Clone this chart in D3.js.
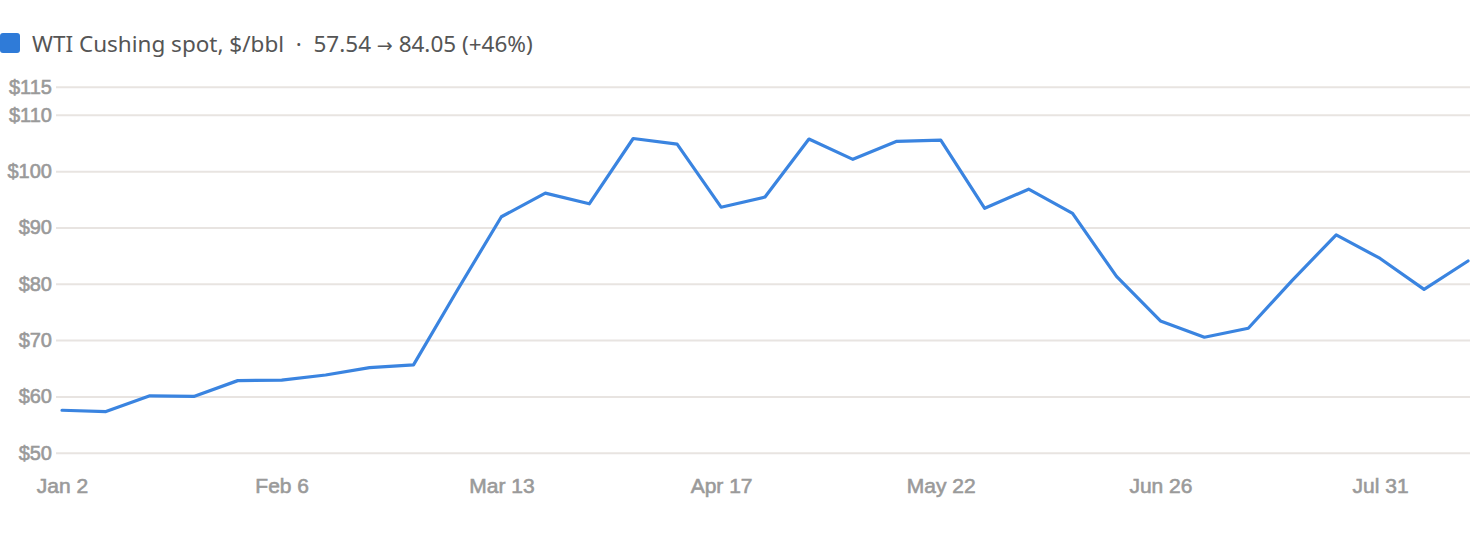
<!DOCTYPE html>
<html>
<head>
<meta charset="utf-8">
<script src="https://cdn.jsdelivr.net/npm/d3@7/dist/d3.min.js"></script>
<style>
  body { margin: 0; background: #fff; }
  .tick text { font-family: "Liberation Sans", Arial, sans-serif; fill: #9a9a9a; stroke: #9a9a9a; stroke-width: 0.6px; }
  .y-axis .tick text { font-size: 20px; }
  .x-axis .tick text { font-size: 21px; }
</style>
</head>
<body>
<div id="chart"></div>
<script>
// weekly spot prices, Jan 2 .. Aug 14
var startDate = "2025-01-02";
var prices = [57.54, 57.3, 60.1, 60.0, 62.8, 62.9, 63.8, 65.1, 65.6, 78.9, 91.9,
    96.1, 94.2, 105.8, 104.8, 93.6, 95.4, 105.7, 102.1, 105.3, 105.5, 93.4, 96.8,
    92.5, 81.3, 73.4, 70.5, 72.1, 80.6, 88.7, 84.5, 79.0, 84.05];
var yTicks = [50, 60, 70, 80, 90, 100, 110, 115];
var xTickEvery = 5; // weeks
var seriesName = "WTI Cushing spot, $/bbl";

var width = 1472, height = 537;
var parse = d3.timeParse("%Y-%m-%d");
var t0 = parse(startDate);
var data = prices.map(function(v, i) {
    return { date: d3.timeWeek.offset(t0, i), value: v };
});

var svg = d3.select("#chart").append("svg")
    .attr("width", width)
    .attr("height", height);

var x = d3.scaleTime()
    .domain([data[0].date, data[data.length - 1].date])
    .range([62, 1468]);
var y = d3.scaleLinear()
    .domain([50, 115])
    .range([452.7, 86.7]);

// legend
var first = prices[0], last = prices[prices.length - 1];
var pct = Math.round((last / first - 1) * 100);
svg.append("rect")
    .attr("x", 0).attr("y", 33)
    .attr("width", 20).attr("height", 20)
    .attr("rx", 3)
    .attr("fill", "#2f7bd8");
var legend = svg.append("text")
    .attr("x", 32).attr("y", 52)
    .style("font-family", "'Noto Sans', 'Open Sans', sans-serif")
    .style("font-size", "22.5px")
    .style("fill", "#555")
    .style("white-space", "pre");
legend.append("tspan").text(seriesName + "  \u00b7  " + first.toFixed(2) + " ");
legend.append("tspan").style("font-family", "'DejaVu Sans', sans-serif").style("font-size", "19px").text("\u2192");
legend.append("tspan").text(" " + last.toFixed(2) + " (+" + pct + "%)");

// y axis with gridlines
var yAxis = svg.append("g")
    .attr("class", "y-axis")
    .attr("transform", "translate(56,0)")
    .call(d3.axisLeft(y).tickValues(yTicks).tickSize(-(1470 - 56)).tickPadding(4)
        .tickFormat(function(d) { return "$" + d; }));
yAxis.select(".domain").remove();
yAxis.selectAll(".tick line").attr("stroke", "#e8e4e1").attr("stroke-width", 2);

// x axis
var xTickDates = data.filter(function(d, i) { return i % xTickEvery === 0; }).map(function(d) { return d.date; });
var xAxis = svg.append("g")
    .attr("class", "x-axis")
    .attr("transform", "translate(0,470)")
    .call(d3.axisBottom(x).tickValues(xTickDates).tickSize(0).tickPadding(8)
        .tickFormat(d3.timeFormat("%b %-d")));
xAxis.select(".domain").remove();

// line
var line = d3.line()
    .x(function(d) { return x(d.date); })
    .y(function(d) { return y(d.value); });

svg.append("path")
    .datum(data)
    .attr("fill", "none")
    .attr("stroke", "#3a84e0")
    .attr("stroke-width", 3.2)
    .attr("stroke-linejoin", "round")
    .attr("stroke-linecap", "round")
    .attr("d", line);
</script>
</body>
</html>
